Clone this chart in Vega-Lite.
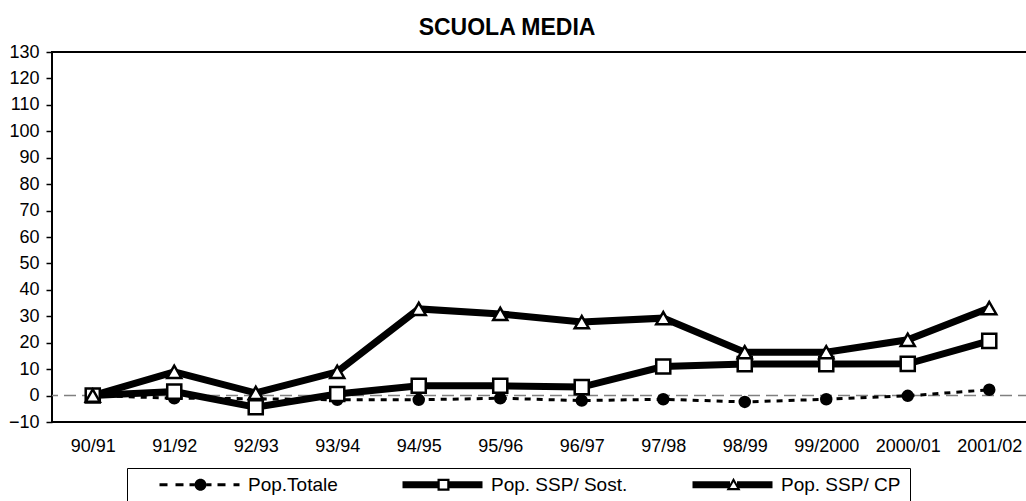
{
  "$schema": "https://vega.github.io/schema/vega-lite/v6.json",
  "width": 978,
  "height": 370,
  "autosize": "none",
  "padding": {"left": 52, "top": 52, "right": 0, "bottom": 79},
  "background": "white",
  "title": {"text": "SCUOLA  MEDIA", "font": "Liberation Sans", "fontSize": 23, "fontWeight": "bold", "color": "black", "anchor": "middle", "dx": -34, "baseline": "alphabetic", "offset": -15},
  "config": {
    "view": {"stroke": "black", "strokeWidth": 2},
    "axis": {"labelFont": "Liberation Sans", "labelColor": "black", "grid": false}
  },
  "data": {"values": [
    {"anno": "90/91", "serie": "Pop.Totale", "valore": 0},
    {"anno": "91/92", "serie": "Pop.Totale", "valore": -1.0},
    {"anno": "92/93", "serie": "Pop.Totale", "valore": -1.2},
    {"anno": "93/94", "serie": "Pop.Totale", "valore": -1.6},
    {"anno": "94/95", "serie": "Pop.Totale", "valore": -1.6},
    {"anno": "95/96", "serie": "Pop.Totale", "valore": -1.0},
    {"anno": "96/97", "serie": "Pop.Totale", "valore": -1.9},
    {"anno": "97/98", "serie": "Pop.Totale", "valore": -1.4},
    {"anno": "98/99", "serie": "Pop.Totale", "valore": -2.4},
    {"anno": "99/2000", "serie": "Pop.Totale", "valore": -1.4},
    {"anno": "2000/01", "serie": "Pop.Totale", "valore": -0.1},
    {"anno": "2001/02", "serie": "Pop.Totale", "valore": 2.2},
    {"anno": "90/91", "serie": "Pop. SSP/ Sost.", "valore": 0},
    {"anno": "91/92", "serie": "Pop. SSP/ Sost.", "valore": 1.5},
    {"anno": "92/93", "serie": "Pop. SSP/ Sost.", "valore": -4.4},
    {"anno": "93/94", "serie": "Pop. SSP/ Sost.", "valore": 0.6},
    {"anno": "94/95", "serie": "Pop. SSP/ Sost.", "valore": 3.7},
    {"anno": "95/96", "serie": "Pop. SSP/ Sost.", "valore": 3.7},
    {"anno": "96/97", "serie": "Pop. SSP/ Sost.", "valore": 3.2},
    {"anno": "97/98", "serie": "Pop. SSP/ Sost.", "valore": 11.0},
    {"anno": "98/99", "serie": "Pop. SSP/ Sost.", "valore": 11.9},
    {"anno": "99/2000", "serie": "Pop. SSP/ Sost.", "valore": 11.9},
    {"anno": "2000/01", "serie": "Pop. SSP/ Sost.", "valore": 12.0},
    {"anno": "2001/02", "serie": "Pop. SSP/ Sost.", "valore": 20.7},
    {"anno": "90/91", "serie": "Pop. SSP/ CP", "valore": 0},
    {"anno": "91/92", "serie": "Pop. SSP/ CP", "valore": 9.0},
    {"anno": "92/93", "serie": "Pop. SSP/ CP", "valore": 1.0},
    {"anno": "93/94", "serie": "Pop. SSP/ CP", "valore": 9.0},
    {"anno": "94/95", "serie": "Pop. SSP/ CP", "valore": 32.8},
    {"anno": "95/96", "serie": "Pop. SSP/ CP", "valore": 30.9},
    {"anno": "96/97", "serie": "Pop. SSP/ CP", "valore": 27.8},
    {"anno": "97/98", "serie": "Pop. SSP/ CP", "valore": 29.3},
    {"anno": "98/99", "serie": "Pop. SSP/ CP", "valore": 16.4},
    {"anno": "99/2000", "serie": "Pop. SSP/ CP", "valore": 16.4},
    {"anno": "2000/01", "serie": "Pop. SSP/ CP", "valore": 21.1},
    {"anno": "2001/02", "serie": "Pop. SSP/ CP", "valore": 33.1}
  ]},
  "encoding": {
    "x": {"field": "anno", "type": "ordinal",
      "scale": {"type": "point", "padding": 0.5, "domain": ["90/91","91/92","92/93","93/94","94/95","95/96","96/97","97/98","98/99","99/2000","2000/01","2001/02"]},
      "axis": {"title": null, "labelAngle": 0, "ticks": false, "domain": false, "labelFontSize": 18, "labelPadding": 15}},
    "y": {"field": "valore", "type": "quantitative",
      "scale": {"domain": [-10, 130], "nice": false, "zero": false},
      "axis": {"title": null, "values": [-10,0,10,20,30,40,50,60,70,80,90,100,110,120,130], "domain": false, "tickColor": "black", "tickSize": 6, "tickWidth": 1.5, "labelFontSize": 18, "labelPadding": 7}}
  },
  "resolve": {"scale": {"shape": "independent"}, "legend": {"shape": "independent"}},
  "layer": [
    {
      "data": {"values": [{"valore": 0}]},
      "mark": {"type": "rule", "color": "#808080", "strokeWidth": 1.5, "strokeDash": [12, 6]},
      "encoding": {"x": null, "y": {"field": "valore", "type": "quantitative"}}
    },
    {
      "transform": [{"filter": "datum.serie === 'Pop.Totale'"}],
      "mark": {"type": "line", "color": "black", "strokeWidth": 3, "strokeDash": [6, 6]}
    },
    {
      "transform": [{"filter": "datum.serie !== 'Pop.Totale'"}],
      "mark": {"type": "line", "color": "black", "strokeWidth": 7},
      "encoding": {"detail": {"field": "serie", "type": "nominal"}}
    },
    {
      "mark": {"type": "point", "stroke": "black", "strokeWidth": 2.5, "opacity": 1, "filled": false},
      "encoding": {
        "shape": {"field": "serie", "type": "nominal",
          "scale": {"domain": ["Pop.Totale", "Pop. SSP/ Sost.", "Pop. SSP/ CP"], "range": ["circle", "square", "triangle-up"]},
          "legend": null},
        "fill": {"condition": {"test": "datum.serie === 'Pop.Totale'", "value": "black"}, "value": "white"},
        "size": {"condition": {"test": "datum.serie === 'Pop.Totale'", "value": 100}, "value": 198}
      }
    },
    {
      "mark": {"type": "point", "filled": true, "color": "black", "opacity": 0},
      "encoding": {
        "shape": {"field": "serie", "type": "nominal",
          "scale": {"domain": ["Pop.Totale", "Pop. SSP/ Sost.", "Pop. SSP/ CP"],
            "range": [
              "M-1,0 M3.2,-0.3H4.8V0.3H3.2Z M6.4,-0.3H8V0.3H6.4Z M9.2,-0.3H10.2V0.3H9.2Z M12.6,-0.3H13.6V0.3H12.6Z M14.8,-0.3H16.4V0.3H14.8Z M18,-0.3H19.2V0.3H18Z M10.2,0A1.2,1.2 0 1,1 12.6,0A1.2,1.2 0 1,1 10.2,0Z",
              "M-1,0 M3.2,-0.7H10.2V0.7H3.2Z M12.6,-0.7H19.2V0.7H12.6Z M10.2,-1.2H12.6V1.2H10.2Z M10.65,-0.75V0.75H12.15V-0.75Z",
              "M-1,0 M3.2,-0.7H10.7V0.7H3.2Z M12.1,-0.7H19.2V0.7H12.1Z M11.4,-1.4L12.8,1.1L10,1.1Z M11.4,-0.55L10.7,0.65L12.1,0.65Z M45.2,0"
            ]},
          "legend": {
            "orient": "none", "legendX": 75, "legendY": 416, "direction": "horizontal", "title": null,
            "padding": 7, "strokeColor": "black", "fillColor": "white",
            "labelFont": "Liberation Sans", "labelFontSize": 19, "labelColor": "black",
            "columnPadding": 39, "symbolSize": 100, "symbolOpacity": 1,
            "symbolFillColor": "black", "symbolStrokeColor": "black", "symbolStrokeWidth": 0,
            "symbolOffset": 0, "labelOffset": 95}}
      }
    }
  ]
}
